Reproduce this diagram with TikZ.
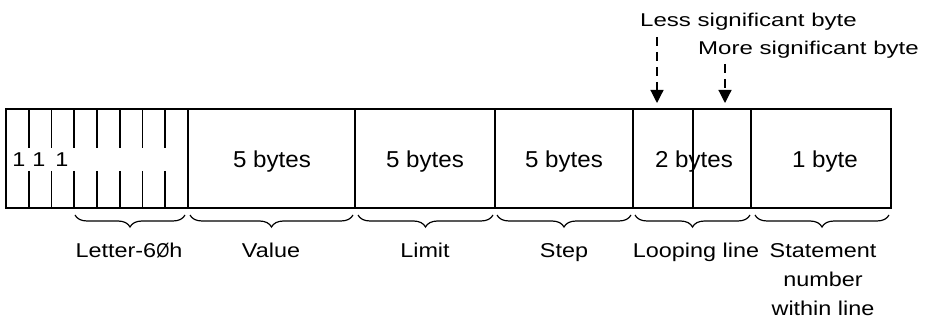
\documentclass[tikz,border=0pt]{standalone}
\usepackage{fontspec}
\usepackage{graphicx}
\setmainfont{Liberation Sans}
\newfontfamily\boxfont{Liberation Sans}[FakeStretch=1.05]
\newfontfamily\labfont{Liberation Sans}[FakeStretch=1.17]
\newfontfamily\topfont{Liberation Sans}[FakeStretch=1.3]
\usetikzlibrary{decorations.pathreplacing,arrows.meta}
\begin{document}
\begin{tikzpicture}[x=1pt,y=-1pt,
  cell/.style={draw, line width=1.8pt, minimum height=99pt, inner sep=0pt},
  tick/.style={line width=1.8pt},
  boxtxt/.style={font=\boxfont\fontsize{23}{28}\selectfont, inner sep=0pt, anchor=base},
  lbl/.style={font=\labfont\fontsize{20}{29}\selectfont, inner sep=0pt, anchor=base},
  toplbl/.style={font=\topfont\fontsize{18.5}{22}\selectfont, inner sep=0pt, anchor=base west},
  brc/.style={decorate, decoration={brace, mirror, amplitude=12pt}, line width=1.2pt},
  ptr/.style={line width=1.2pt, dash pattern=on 9pt off 6pt, -{Triangle[width=13pt,length=13pt]}}
]
\useasboundingbox (0,0) rectangle (937,320);
% cells
\node[cell, minimum width=182pt] (bits)  at (97,158.5) {};
\node[cell, minimum width=167pt] (value) at (271.5,158.5) {};
\node[cell, minimum width=140pt] (limit) at (425,158.5) {};
\node[cell, minimum width=138pt] (step)  at (564,158.5) {};
\node[cell, minimum width=118pt] (loop)  at (692,158.5) {};
\node[cell, minimum width=140pt] (stmt)  at (821,158.5) {};
% byte divider in looping line
\draw[tick] (693,109) -- (693,208);
% bit ticks
\foreach \x in {28.75,51.5,74.25,97,119.75,142.5,165.25}{
  \draw[tick] (\x,109) -- (\x,148);
  \draw[tick] (\x,171) -- (\x,208);
}
% bit labels
\node[lbl] (b1) at (19,167) {1};
\node[lbl] (b2) at (39,167) {1};
\node[lbl] (b3) at (62,167) {1};
% cell texts
\node[boxtxt] (tv) at (272,168) {5 bytes};
\node[boxtxt] (tl) at (425,168) {5 bytes};
\node[boxtxt] (ts) at (564,168) {5 bytes};
\node[boxtxt] (tp) at (694,168) {2 bytes};
\node[boxtxt] (tb) at (825,168) {1 byte};
% braces
\draw[brc] (75,215) -- (185,215);
\draw[brc] (190,215) -- (353,215);
\draw[brc] (358,215) -- (493,215);
\draw[brc] (497,215) -- (631,215);
\draw[brc] (635,215) -- (750,215);
\draw[brc] (755,215) -- (889,215);
% brace labels
\node[lbl] (lletter) at (129,258) {Letter-6\scalebox{0.72}[1]{Ø}h};
\node[lbl] (lvalue) at (271,258) {Value};
\node[lbl] (llimit) at (425,258) {Limit};
\node[lbl] (lstep) at (564,258) {Step};
\node[lbl] (lloop) at (696,258) {Looping line};
\node[lbl, align=center, anchor=north] (lstmt) at (823,243.5) {Statement\\number\\within line};
% pointer labels
\node[toplbl] (less) at (640,27) {Less significant byte};
\node[toplbl] (more) at (698,55) {More significant byte};
\coordinate (lessfrom) at (657,37);
\coordinate (lessto) at (657,103);
\coordinate (morefrom) at (725,64);
\coordinate (moreto) at (725,103);
\draw[ptr] (lessfrom) -- (lessto);
\draw[ptr] (morefrom) -- (moreto);
\end{tikzpicture}
\end{document}
